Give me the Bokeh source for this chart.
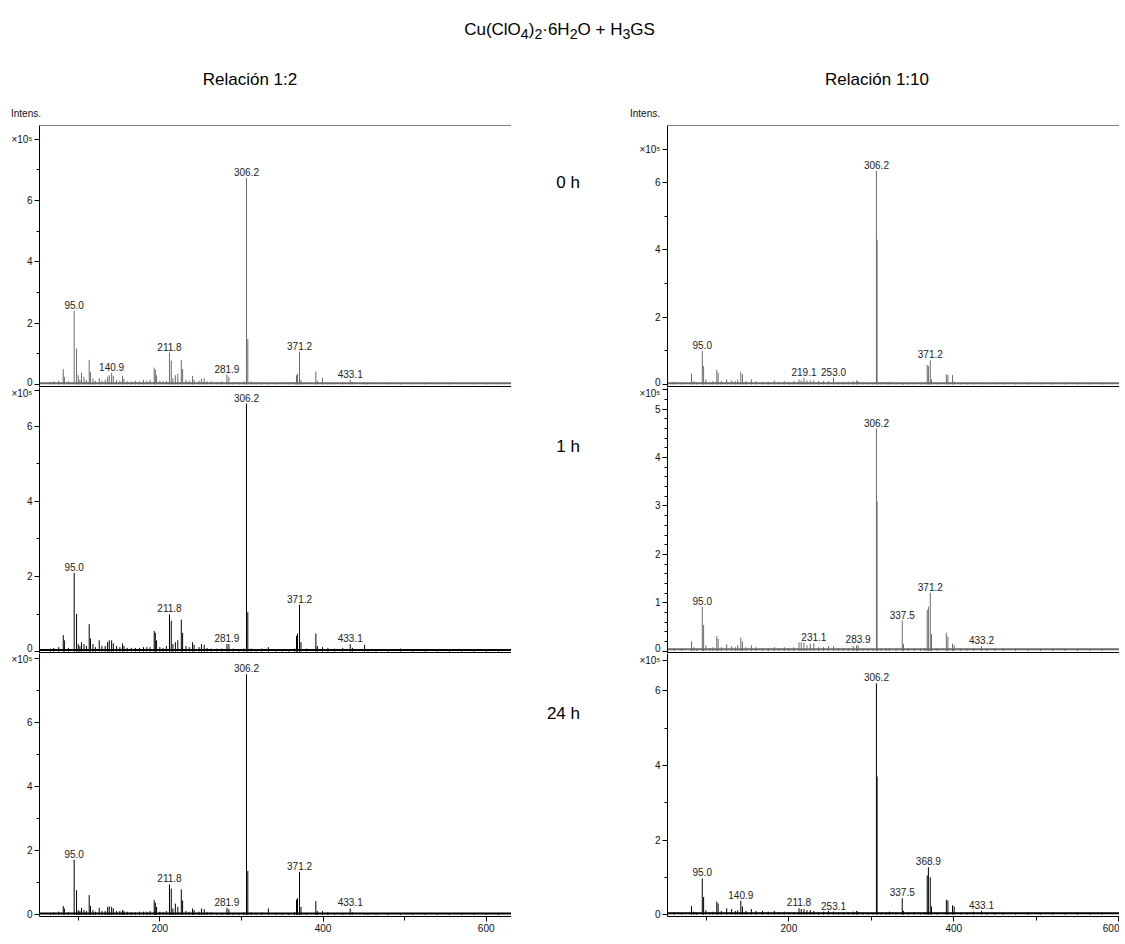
from bokeh.plotting import figure
from bokeh.models import Range1d, FixedTicker, Span, Div, ColumnDataSource
from bokeh.layouts import column, row
from bokeh.core.properties import value
from bokeh.embed import file_html
from bokeh.resources import INLINE

# ---------------- data ----------------
title_html = "Cu(ClO<sub>4</sub>)<sub>2</sub>·6H<sub>2</sub>O + H<sub>3</sub>GS"
col_titles = ["Relación 1:2", "Relación 1:10"]
row_titles = ["0 h", "1 h", "24 h"]
axis_name = "Intens."
scale_name = "×10⁵"

# m/z positions of sticks, left column (ratio 1:2)
mz_left = [
    66, 70, 76, 81.6, 83, 88, 95.0, 97.9, 100, 102,
    104, 107, 110, 113.4, 115, 118, 121, 125.7, 129, 133,
    136, 138, 140.9, 143, 147, 151, 154.3, 156, 160, 165,
    170, 175, 180, 184, 188, 193.1, 194.5, 196, 200, 204,
    208, 211.8, 214.0, 216, 219, 222, 226.3, 227.9, 232, 236,
    240.1, 242, 248, 251, 254.4, 258, 263, 270, 276, 282.2,
    284.6, 290, 297, 303, 306.2, 307.8, 312, 318, 325, 333,
    342, 350, 358, 365, 367.5, 368.7, 371.2, 373, 380, 391.2,
    393, 399.4, 406, 414, 424, 433.3, 436, 451, 455, 465,
    480, 495, 510, 525, 540, 555, 570, 585, 600, 615]

int_left_0h = [
    0.08, 0.1, 0.12, 0.5, 0.25, 0.1, 2.41, 1.17, 0.3, 0.15,
    0.38, 0.25, 0.15, 0.8, 0.4, 0.2, 0.12, 0.2, 0.12, 0.15,
    0.25, 0.3, 0.38, 0.28, 0.15, 0.12, 0.28, 0.18, 0.1, 0.1,
    0.12, 0.1, 0.15, 0.12, 0.15, 0.55, 0.48, 0.3, 0.12, 0.1,
    0.12, 1.04, 0.78, 0.2, 0.3, 0.35, 0.8, 0.5, 0.15, 0.12,
    0.28, 0.15, 0.12, 0.18, 0.2, 0.1, 0.1, 0.08, 0.1, 0.32,
    0.25, 0.08, 0.06, 0.1, 6.73, 1.48, 0.1, 0.08, 0.06, 0.07,
    0.06, 0.08, 0.06, 0.08, 0.3, 0.35, 1.07, 0.15, 0.06, 0.42,
    0.12, 0.22, 0.08, 0.06, 0.06, 0.15, 0.08, 0.06, 0.06, 0.05,
    0.06, 0.05, 0.05, 0.06, 0.05, 0.06, 0.05, 0.05, 0.05, 0.05]

int_left_1h = [
    0.08, 0.1, 0.12, 0.44, 0.3, 0.1, 2.1, 1.0, 0.2, 0.15,
    0.25, 0.2, 0.15, 0.73, 0.35, 0.2, 0.12, 0.3, 0.15, 0.15,
    0.25, 0.3, 0.3, 0.22, 0.15, 0.12, 0.22, 0.15, 0.1, 0.1,
    0.1, 0.1, 0.12, 0.12, 0.12, 0.55, 0.5, 0.3, 0.12, 0.1,
    0.15, 0.99, 0.82, 0.2, 0.25, 0.3, 0.85, 0.5, 0.15, 0.12,
    0.25, 0.18, 0.12, 0.2, 0.18, 0.1, 0.08, 0.08, 0.08, 0.2,
    0.2, 0.08, 0.06, 0.08, 6.6, 1.05, 0.08, 0.06, 0.08, 0.12,
    0.06, 0.06, 0.06, 0.08, 0.42, 0.48, 1.25, 0.25, 0.08, 0.48,
    0.15, 0.12, 0.1, 0.08, 0.1, 0.2, 0.1, 0.18, 0.06, 0.06,
    0.06, 0.08, 0.06, 0.07, 0.06, 0.06, 0.06, 0.06, 0.06, 0.06]

int_left_24h = [
    0.06, 0.08, 0.1, 0.28, 0.2, 0.08, 1.72, 0.77, 0.15, 0.12,
    0.22, 0.15, 0.12, 0.62, 0.28, 0.15, 0.1, 0.22, 0.12, 0.12,
    0.25, 0.27, 0.25, 0.2, 0.12, 0.12, 0.15, 0.12, 0.1, 0.08,
    0.08, 0.1, 0.1, 0.1, 0.12, 0.46, 0.38, 0.25, 0.1, 0.08,
    0.12, 0.95, 0.82, 0.2, 0.35, 0.25, 0.8, 0.45, 0.12, 0.1,
    0.2, 0.15, 0.1, 0.2, 0.18, 0.08, 0.08, 0.06, 0.06, 0.22,
    0.18, 0.06, 0.06, 0.08, 7.5, 1.37, 0.08, 0.06, 0.08, 0.2,
    0.06, 0.06, 0.06, 0.08, 0.48, 0.52, 1.34, 0.25, 0.06, 0.43,
    0.12, 0.12, 0.08, 0.06, 0.06, 0.2, 0.08, 0.06, 0.06, 0.05,
    0.05, 0.06, 0.05, 0.06, 0.05, 0.05, 0.05, 0.05, 0.05, 0.05]

# m/z positions of sticks, right column (ratio 1:10)
mz_right = [
    60.8, 70, 81.9, 84.7, 88, 95.0, 96.6, 99.4, 104, 108,
    112.6, 114.2, 118, 124.6, 130.6, 135, 138, 141.7, 143.7, 148,
    154.5, 160, 168, 175, 182.4, 188, 194.4, 200, 206, 212.3,
    215, 218.3, 222, 226, 230.3, 236, 242, 248, 254.2, 260,
    266, 272, 278, 282.1, 284, 290, 296, 302, 306.2, 307.0,
    312, 318, 322, 330, 337.5, 339, 345, 352, 360, 365,
    367.8, 369.2, 371.5, 373, 380, 391.0, 392.9, 398.5, 400.5, 408,
    416, 424, 433.6, 440, 450, 460, 475, 490, 505, 520,
    535, 550, 565, 580]

int_right_0h = [
    0.08, 0.06, 0.32, 0.1, 0.06, 1.0, 0.55, 0.15, 0.08, 0.1,
    0.43, 0.35, 0.1, 0.15, 0.12, 0.1, 0.15, 0.37, 0.3, 0.1,
    0.15, 0.1, 0.08, 0.08, 0.12, 0.08, 0.1, 0.08, 0.1, 0.15,
    0.12, 0.2, 0.12, 0.12, 0.12, 0.1, 0.1, 0.1, 0.2, 0.08,
    0.08, 0.08, 0.1, 0.12, 0.1, 0.06, 0.06, 0.06, 6.35, 4.3,
    0.06, 0.06, 0.08, 0.05, 0.05, 0.05, 0.05, 0.05, 0.05, 0.06,
    0.58, 0.55, 0.72, 0.15, 0.05, 0.3, 0.28, 0.28, 0.08, 0.05,
    0.06, 0.05, 0.06, 0.05, 0.06, 0.05, 0.05, 0.05, 0.05, 0.05,
    0.05, 0.05, 0.05, 0.05]

int_right_1h = [
    0.06, 0.05, 0.2, 0.08, 0.05, 0.92, 0.54, 0.12, 0.06, 0.08,
    0.31, 0.25, 0.08, 0.14, 0.1, 0.08, 0.12, 0.28, 0.2, 0.08,
    0.12, 0.08, 0.06, 0.06, 0.08, 0.06, 0.08, 0.06, 0.08, 0.18,
    0.18, 0.18, 0.12, 0.15, 0.16, 0.08, 0.08, 0.1, 0.1, 0.06,
    0.06, 0.06, 0.1, 0.12, 0.12, 0.05, 0.05, 0.05, 4.6, 3.1,
    0.05, 0.05, 0.06, 0.05, 0.63, 0.15, 0.05, 0.05, 0.05, 0.06,
    0.85, 0.92, 1.21, 0.35, 0.05, 0.38, 0.3, 0.15, 0.12, 0.05,
    0.05, 0.06, 0.1, 0.05, 0.05, 0.05, 0.05, 0.05, 0.05, 0.05,
    0.05, 0.05, 0.05, 0.05]

int_right_24h = [
    0.06, 0.05, 0.23, 0.08, 0.05, 0.97, 0.47, 0.12, 0.06, 0.08,
    0.35, 0.3, 0.1, 0.17, 0.15, 0.1, 0.12, 0.37, 0.22, 0.1,
    0.15, 0.1, 0.1, 0.08, 0.1, 0.06, 0.08, 0.06, 0.06, 0.17,
    0.15, 0.15, 0.12, 0.12, 0.1, 0.06, 0.08, 0.1, 0.08, 0.06,
    0.06, 0.06, 0.08, 0.1, 0.08, 0.05, 0.05, 0.05, 6.2, 3.7,
    0.05, 0.05, 0.08, 0.05, 0.44, 0.1, 0.05, 0.06, 0.05, 0.06,
    1.05, 1.27, 1.0, 0.22, 0.05, 0.4, 0.38, 0.25, 0.22, 0.05,
    0.06, 0.08, 0.1, 0.05, 0.05, 0.05, 0.05, 0.05, 0.05, 0.05,
    0.05, 0.05, 0.05, 0.05]

# baseline (noise floor) level, in units of 1e5
baseline_mz_left = [52.5, 631]
baseline_mz_right = [52.8, 601]
baseline_level = [0.04, 0.04]

# annotated peaks: m/z of the stick they sit on, and their text
lab_left_0h_mz = [95.0, 140.9, 211.8, 282.2, 306.2, 371.2, 433.3]
lab_left_0h_txt = ["95.0", "140.9", "211.8", "281.9", "306.2", "371.2", "433.1"]
lab_left_1h_mz = [95.0, 211.8, 282.2, 306.2, 371.2, 433.3]
lab_left_1h_txt = ["95.0", "211.8", "281.9", "306.2", "371.2", "433.1"]
lab_left_24h_mz = [95.0, 211.8, 282.2, 306.2, 371.2, 433.3]
lab_left_24h_txt = ["95.0", "211.8", "281.9", "306.2", "371.2", "433.1"]
lab_right_0h_mz = [95.0, 218.3, 254.2, 306.2, 371.5]
lab_right_0h_txt = ["95.0", "219.1", "253.0", "306.2", "371.2"]
lab_right_1h_mz = [95.0, 230.3, 284.0, 306.2, 337.5, 371.5, 433.6]
lab_right_1h_txt = ["95.0", "231.1", "283.9", "306.2", "337.5", "371.2", "433.2"]
lab_right_24h_mz = [95.0, 141.7, 212.3, 254.2, 306.2, 337.5, 369.2, 433.6]
lab_right_24h_txt = ["95.0", "140.9", "211.8", "253.1", "306.2", "337.5", "368.9", "433.1"]

# ---------------- styling ----------------
FONT = "Liberation Sans"
GRAY = "#6a6a6a"
BLACK = "#000000"


def make_panel(mz, inten, lab_mz, lab_txt, color, xr, yr, major, minor, top_tick,
               frame_w, frame_h, border_left, show_x, top_line, thick_bottom, base_mz):
    p = figure(frame_width=frame_w, frame_height=frame_h,
               x_range=Range1d(*xr), y_range=Range1d(*yr),
               output_backend="svg", toolbar_location=None,
               x_axis_location="below" if show_x else None,
               min_border_left=border_left, min_border_right=0,
               min_border_top=0, min_border_bottom=0)
    p.grid.visible = False
    p.outline_line_color = None
    p.background_fill_color = "white"
    p.border_fill_color = "white"

    src = ColumnDataSource(dict(mz=mz, inten=inten, base=[0.0] * len(mz)))
    p.line(x=base_mz, y=baseline_level, line_color=color, line_width=2)
    p.segment(x0="mz", y0="base", x1="mz", y1="inten", source=src,
              line_color=color, line_width=1)

    lookup = dict(zip(mz, inten))
    lsrc = ColumnDataSource(dict(x=lab_mz, y=[lookup[m] for m in lab_mz], t=lab_txt))
    p.text(x="x", y="y", text="t", source=lsrc, text_align="center",
           text_baseline="bottom", y_offset=-2, text_font_size="10px",
           text_font=value(FONT), text_color="#222222")

    ya = p.yaxis[0]
    ya.ticker = FixedTicker(ticks=major + [top_tick], minor_ticks=minor)
    ya.major_label_overrides = {top_tick: scale_name}
    ya.major_label_text_font = FONT
    ya.major_label_text_font_size = "10px"
    ya.major_label_text_color = "#111111"
    ya.major_label_standoff = 2
    ya.major_tick_in = 0
    ya.major_tick_out = 5
    ya.minor_tick_in = 0
    ya.minor_tick_out = 3
    ya.axis_line_color = "black"
    ya.major_tick_line_color = "black"
    ya.minor_tick_line_color = "black"

    if show_x:
        xa = p.xaxis[0]
        xa.ticker = FixedTicker(ticks=[200, 400, 600], minor_ticks=[100, 300, 500])
        xa.major_label_text_font = FONT
        xa.major_label_text_font_size = "10px"
        xa.major_label_text_color = "#111111"
        xa.major_label_standoff = 2
        xa.major_tick_in = 0
        xa.major_tick_out = 5
        xa.minor_tick_in = 0
        xa.minor_tick_out = 4
        xa.axis_line_color = "black"

    if thick_bottom:
        p.add_layout(Span(location=yr[0], dimension="width", line_color="black",
                          line_width=3))
    if top_line:
        p.add_layout(Span(location=yr[1], dimension="width", line_color="black",
                          line_width=1))
    return p


XL = (52.5, 631)
XR = (52.8, 601)
LW, RW = 472, 452
H1, H2, H3 = 262, 266, 263
HEADER_H = 115

pL0 = make_panel(mz_left, int_left_0h, lab_left_0h_mz, lab_left_0h_txt, GRAY, XL,
                 (-0.1, 8.45), [0, 2, 4, 6], [1, 3, 5, 7], 8,
                 LW, H1, 39, False, True, True, baseline_mz_left)
pL1 = make_panel(mz_left, int_left_1h, lab_left_1h_mz, lab_left_1h_txt, BLACK, XL,
                 (-0.05, 7.03), [0, 2, 4, 6], [1, 3, 5], 6.95,
                 LW, H2, 39, False, False, True, baseline_mz_left)
pL2 = make_panel(mz_left, int_left_24h, lab_left_24h_mz, lab_left_24h_txt, BLACK, XL,
                 (-0.05, 8.15), [0, 2, 4, 6], [1, 3, 5, 7], 8,
                 LW, H3, 39, True, False, False, baseline_mz_left)

r1_minor = [round(i * 0.2, 1) for i in range(1, 27) if i % 5 != 0]
pR0 = make_panel(mz_right, int_right_0h, lab_right_0h_mz, lab_right_0h_txt, GRAY, XR,
                 (-0.09, 7.7), [0, 2, 4, 6], [1, 3, 5], 7,
                 RW, H1, 45, False, True, True, baseline_mz_right)
pR1 = make_panel(mz_right, int_right_1h, lab_right_1h_mz, lab_right_1h_txt, GRAY, XR,
                 (-0.05, 5.45), [0, 1, 2, 3, 4, 5], [v for v in r1_minor if v < 5.3], 5.4,
                 RW, H2, 45, False, False, True, baseline_mz_right)
pR2 = make_panel(mz_right, int_right_24h, lab_right_24h_mz, lab_right_24h_txt, BLACK, XR,
                 (-0.05, 7.0), [0, 2, 4, 6], [1, 3, 5], 6.8,
                 RW, H3, 45, True, False, False, baseline_mz_right)

fstyle = "font-family:'Liberation Sans',Arial,sans-serif;color:#000;"
header = Div(width=1109, height=HEADER_H, text=(
    f'<div style="position:relative;width:1109px;height:{HEADER_H}px;{fstyle}">'
    f'<div style="position:absolute;left:0;top:15px;width:1109px;text-align:center;'
    f'font-size:17px;line-height:20px;">{title_html}</div>'
    f'<div style="position:absolute;left:145px;top:65px;width:200px;text-align:center;'
    f'font-size:17px;line-height:20px;">{col_titles[0]}</div>'
    f'<div style="position:absolute;left:772px;top:65px;width:200px;text-align:center;'
    f'font-size:17px;line-height:20px;">{col_titles[1]}</div>'
    f'<div style="position:absolute;left:0;top:103px;width:36px;text-align:right;'
    f'font-size:10px;line-height:12px;color:#111;">{axis_name}</div>'
    f'<div style="position:absolute;left:600px;top:103px;width:55px;text-align:right;'
    f'font-size:10px;line-height:12px;color:#111;">{axis_name}</div>'
    '</div>'))

mid_tops = [43, 307, 574]
mid_html = f'<div style="position:relative;width:101px;height:800px;{fstyle}">'
for t, top in zip(row_titles, mid_tops):
    mid_html += (f'<div style="position:absolute;right:37px;top:{top}px;'
                 f'font-size:17px;line-height:20px;white-space:nowrap;">{t}</div>')
mid_html += '</div>'
mid = Div(width=101, height=800, text=mid_html)

left_col = column(pL0, pL1, pL2, spacing=0)
right_col = column(pR0, pR1, pR2, spacing=0)
body = row(left_col, mid, right_col, spacing=0)
page = column(header, body, spacing=0)

open("out.html", "w").write(file_html(page, INLINE))
